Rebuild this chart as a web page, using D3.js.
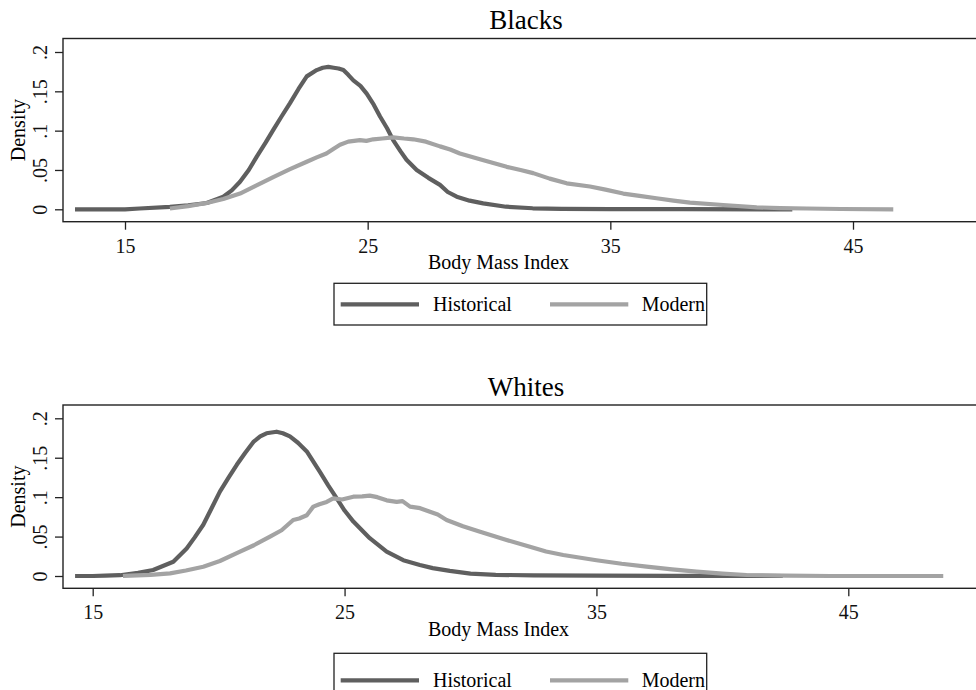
<!DOCTYPE html>
<html>
<head>
<meta charset="utf-8">
<script src="https://cdn.jsdelivr.net/npm/d3@7"></script>
<style>
  body { margin: 0; background: #fff; }
  svg { display: block; font-family: "Liberation Serif", "Times New Roman", serif; }
</style>
</head>
<body>
<svg id="chart" width="976" height="690"></svg>
<script>
// kernel density estimates as [BMI, density]
const blacksHistorical = [[12.94,0],[14,0],[15,0],[15.6,0.001],[16.85,0.003],[17.6,0.005],[18.37,0.008],[19.05,0.016],[19.4,0.024],[19.74,0.035],[20.1,0.05],[20.43,0.067],[20.8,0.085],[21.11,0.101],[21.45,0.118],[21.8,0.135],[22.15,0.153],[22.49,0.169],[22.9,0.177],[23.15,0.18],[23.38,0.181],[23.6,0.18],[23.8,0.179],[24.0,0.177],[24.2,0.171],[24.41,0.164],[24.7,0.157],[24.96,0.147],[25.25,0.133],[25.51,0.118],[25.8,0.103],[26.05,0.088],[26.35,0.074],[26.6,0.063],[27.02,0.05],[27.5,0.04],[27.98,0.031],[28.3,0.022],[28.67,0.016],[29.2,0.011],[29.76,0.0076],[30.7,0.0033],[31.8,0.0013],[33,0.0006],[35,0.0003],[38,0.0001],[42.5,0]];
const blacksModern = [[16.85,0.001],[17.6,0.004],[18.37,0.008],[19.05,0.013],[19.74,0.02],[20.4,0.03],[21.11,0.041],[21.8,0.051],[22.49,0.0605],[22.9,0.066],[23.3,0.071],[23.6,0.077],[23.86,0.082],[24.2,0.086],[24.68,0.088],[24.95,0.087],[25.23,0.089],[25.6,0.09],[26.05,0.0915],[26.5,0.09],[26.88,0.089],[27.4,0.086],[27.98,0.08],[28.4,0.076],[28.8,0.071],[29.7,0.063],[30.73,0.054],[31.3,0.05],[31.82,0.046],[32.5,0.039],[33.2,0.033],[34.16,0.029],[34.8,0.025],[35.53,0.02],[36.2,0.017],[36.9,0.014],[37.6,0.011],[38.28,0.0084],[39.65,0.0055],[41.03,0.0025],[42,0.0015],[43.1,0.001],[44.5,0.0004],[46.66,0]];
const whitesHistorical = [[14.3,0],[15,0],[15.5,0.0005],[16.08,0.001],[16.8,0.004],[17.4,0.0076],[18.2,0.018],[18.73,0.035],[19.05,0.049],[19.39,0.065],[19.72,0.086],[20.05,0.107],[20.4,0.125],[20.72,0.141],[21.05,0.156],[21.38,0.17],[21.65,0.177],[21.9,0.181],[22.3,0.183],[22.55,0.181],[22.83,0.177],[23.15,0.169],[23.5,0.158],[24.02,0.132],[24.35,0.115],[24.69,0.0985],[25.0,0.083],[25.35,0.069],[26.0,0.048],[26.67,0.031],[27.33,0.02],[27.99,0.014],[28.5,0.01],[29.18,0.0065],[30,0.003],[31,0.0015],[32.5,0.0008],[35,0.0004],[38,0.0002],[42.4,0]];
const whitesModern = [[16.2,0],[16.5,0.0004],[17.3,0.0015],[18.07,0.0034],[18.7,0.007],[19.39,0.0118],[20.05,0.019],[20.72,0.029],[21.4,0.039],[22.04,0.05],[22.5,0.058],[22.96,0.071],[23.2,0.073],[23.5,0.077],[23.76,0.088],[24.0,0.091],[24.29,0.094],[24.55,0.0985],[24.9,0.097],[25.35,0.1006],[25.7,0.101],[26.0,0.102],[26.3,0.1],[26.67,0.096],[27.07,0.094],[27.3,0.095],[27.6,0.088],[28.0,0.086],[28.39,0.0815],[28.7,0.078],[29.05,0.071],[29.7,0.063],[30.38,0.056],[31.4,0.046],[32.36,0.037],[33.0,0.031],[33.68,0.0266],[35.0,0.02],[36.0,0.0155],[36.99,0.0118],[38.0,0.0085],[38.98,0.0055],[40.0,0.003],[40.96,0.0013],[42.5,0.0005],[44.3,0],[48.77,0]];

const xTicks = [15, 25, 35, 45];
const yTicks = [0, 0.05, 0.1, 0.15, 0.2];
const yTickLabels = ["0", ".05", ".1", ".15", ".2"];
const seriesNames = ["Historical", "Modern"];
const seriesColors = ["#5f5f5f", "#a3a3a3"];

const svg = d3.select("#chart");

const panels = [
  { title: "Blacks", data: [blacksHistorical, blacksModern],
    top: 38.5, bottom: 221.7, xRange: [125, 853], yRange: [209.3, 52],
    legendTop: 283.3, legendLineY: 304.3 },
  { title: "Whites", data: [whitesHistorical, whitesModern],
    top: 405, bottom: 588.3, xRange: [92.7, 848.3], yRange: [576, 418.3],
    legendTop: 653.3, legendLineY: 680.3 }
];

const frameLeft = 63, frameRight = 990;

panels.forEach(p => {
  const x = d3.scaleLinear().domain([15, 45]).range(p.xRange);
  const y = d3.scaleLinear().domain([0, 0.2]).range(p.yRange);
  const g = svg.append("g");

  // title
  g.append("text")
    .attr("x", 526).attr("y", p.top - 9.5)
    .attr("text-anchor", "middle")
    .attr("font-size", 27)
    .text(p.title);

  // curves (historical first, modern on top)
  const line = d3.line().x(d => x(d[0])).y(d => y(d[1]));
  p.data.forEach((series, i) => {
    g.append("path")
      .datum(series)
      .attr("fill", "none")
      .attr("stroke", seriesColors[i])
      .attr("stroke-width", 4.2)
      .attr("stroke-linejoin", "round")
      .attr("d", line);
  });

  // frame
  g.append("rect")
    .attr("x", frameLeft).attr("y", p.top)
    .attr("width", frameRight - frameLeft).attr("height", p.bottom - p.top)
    .attr("fill", "none")
    .attr("stroke", "#222")
    .attr("stroke-width", 1.4);

  // x axis
  const xAxis = g.append("g")
    .attr("transform", `translate(0,${p.bottom})`)
    .call(d3.axisBottom(x).tickValues(xTicks).tickSize(8).tickPadding(9).tickSizeOuter(0));
  xAxis.select(".domain").remove();
  xAxis.selectAll(".tick line").attr("stroke", "#222").attr("stroke-width", 1.3);
  xAxis.selectAll(".tick text")
    .attr("font-family", "Liberation Serif, Times New Roman, serif")
    .attr("font-size", 20).attr("fill", "#111");

  g.append("text")
    .attr("x", 498.5).attr("y", p.bottom + 47.5)
    .attr("text-anchor", "middle")
    .attr("font-size", 20)
    .text("Body Mass Index");

  // y axis, vertical labels
  const yAxis = g.append("g")
    .attr("transform", `translate(${frameLeft},0)`)
    .call(d3.axisLeft(y).tickValues(yTicks).tickFormat((d, i) => yTickLabels[i]).tickSize(8).tickSizeOuter(0));
  yAxis.select(".domain").remove();
  yAxis.selectAll(".tick line").attr("stroke", "#222").attr("stroke-width", 1.3);
  yAxis.selectAll(".tick text")
    .attr("x", 0).attr("y", 0).attr("dy", 0)
    .attr("transform", "translate(-16.3,0) rotate(-90)")
    .attr("text-anchor", "middle")
    .attr("font-family", "Liberation Serif, Times New Roman, serif")
    .attr("font-size", 20).attr("fill", "#111");

  g.append("text")
    .attr("transform", `translate(25,${(p.top + p.bottom) / 2}) rotate(-90)`)
    .attr("text-anchor", "middle")
    .attr("font-size", 20)
    .text("Density");

  // legend
  const lg = g.append("g");
  lg.append("rect")
    .attr("x", 334).attr("y", p.legendTop)
    .attr("width", 372.7).attr("height", 41.7)
    .attr("fill", "#fff").attr("stroke", "#222").attr("stroke-width", 1.3);
  const lineStarts = [340.7, 550];
  const textStarts = [433, 641.7];
  seriesNames.forEach((name, i) => {
    lg.append("line")
      .attr("x1", lineStarts[i]).attr("x2", lineStarts[i] + 78.3)
      .attr("y1", p.legendLineY).attr("y2", p.legendLineY)
      .attr("stroke", seriesColors[i]).attr("stroke-width", 4.2);
    lg.append("text")
      .attr("x", textStarts[i]).attr("y", p.legendLineY + 6.5)
      .attr("font-size", 20)
      .text(name);
  });
});
</script>
</body>
</html>
